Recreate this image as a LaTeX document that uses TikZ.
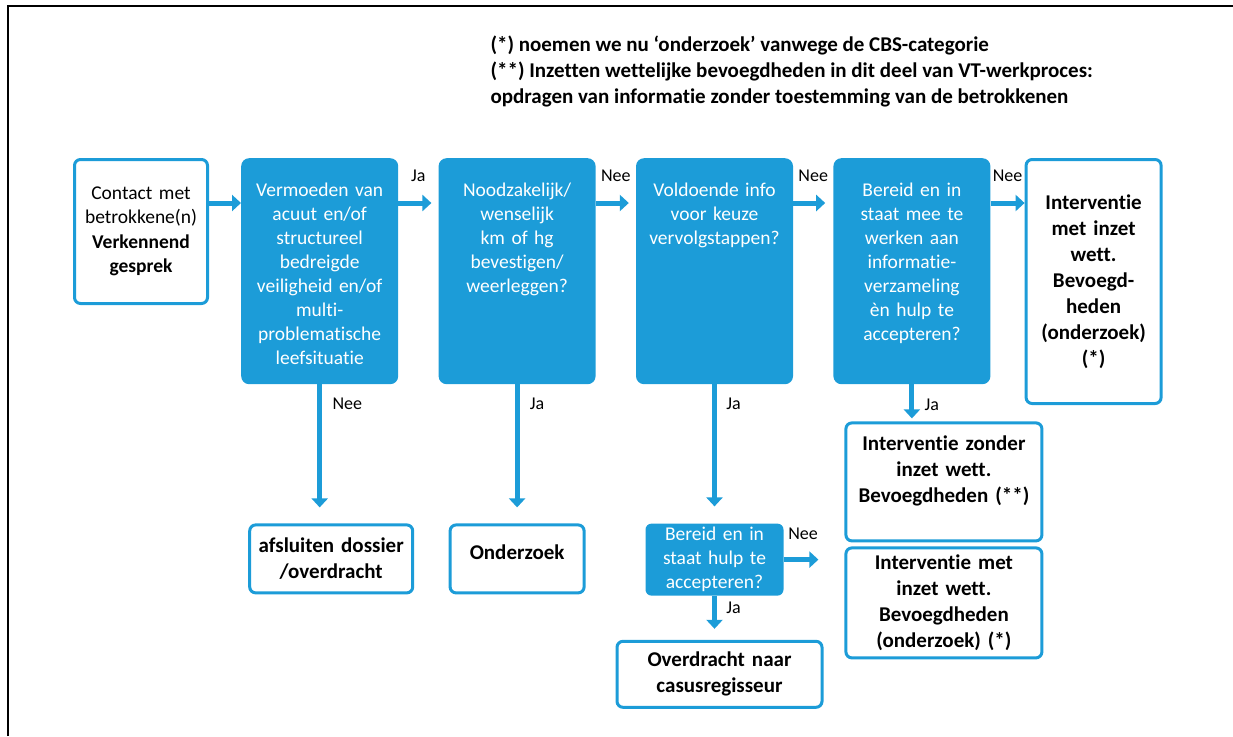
\documentclass[tikz,border=0pt]{standalone}
\usepackage{fontspec}
\setmainfont{Carlito}[Ligatures={TeX,NoCommon}]
\usetikzlibrary{arrows.meta,positioning}
\definecolor{vtblue}{RGB}{28,156,216}

\begin{document}
\begin{tikzpicture}
	[ x=1pt, y=-1pt,
		decision/.style={rectangle,fill=vtblue,text=white,rounded corners=8pt,inner xsep=3.5pt,inner ysep=0pt,
			align=center,font=\fontsize{19.5}{24}\selectfont},
		question/.style={decision,text width=150pt,text height=38pt,text depth=188pt},
		outcome/.style 2 args={rectangle,draw=vtblue,line width=3pt,fill=white,rounded corners=6pt,
			minimum width=#1,minimum height=#2,text width=#1-8pt,inner sep=2pt,align=center,
			font=\bfseries\fontsize{21}{26}\selectfont},
		flowArrow/.style={-{Triangle[width=16pt,length=9pt]},line width=5pt,draw=vtblue},
		answer/.style={font=\fontsize{18}{20}\selectfont,text=black}]

	\useasboundingbox (0,0) rectangle (1233,736);
	\draw[line width=2pt] (8,736) -- (8,6) -- (1233,6);

	\node[anchor=west,align=left,font=\bfseries\fontsize{21}{26}\selectfont] (legend) at (487,71)
		{(*) noemen we nu ‘onderzoek’ vanwege de CBS-categorie\\
		 (**) Inzetten wettelijke bevoegdheden in dit deel van VT-werkproces:\\
		 opdragen van informatie zonder toestemming van de betrokkenen};

	% top row
	\node[outcome={133pt}{144pt},anchor=north west,font=\fontsize{19.5}{24.5}\selectfont] (contact) at (73,158)
		{Contact met\\betrokkene(n)\\\textbf{Verkennend}\\\textbf{gesprek}};
	\node[question] (vermoeden) [right=32pt of contact.north east,anchor=north west]
		{Vermoeden van\\acuut en/of\\structureel\\bedreigde\\veiligheid en/of\\multi-\\problematische\\leefsituatie};
	\node[question] (noodzakelijk) [right=40pt of vermoeden]
		{Noodzakelijk/\\wenselijk\\km of hg\\bevestigen/\\weerleggen?};
	\node[question] (voldoende) [right=40pt of noodzakelijk]
		{Voldoende info\\voor keuze\\vervolgstappen?};
	\node[question] (bereid) [right=40pt of voldoende]
		{Bereid en in\\staat mee te\\werken aan\\informatie-\\verzameling\\èn hulp te\\accepteren?};
	\node[outcome={135pt}{244pt}] (metinzet) [right=34pt of bereid.north east,anchor=north west]
		{Interventie\\met inzet\\wett.\\Bevoegd-\\heden\\(onderzoek)\\(*)};

	% bottom row
	\node[outcome={163pt}{68pt}] (afsluiten) [below=139pt of vermoeden,xshift=11.5pt]
		{afsluiten dossier\\/overdracht};
	\node[outcome={134pt}{68pt},text height=33pt,text depth=31pt] (onderzoek) [below=139pt of noodzakelijk]
		{Onderzoek};
	\node[decision,text width=131pt,minimum height=72pt,rounded corners=6pt] (bereidhulp) [below=139pt of voldoende]
		{Bereid en in\\staat hulp te\\accepteren?};
	\node[outcome={205pt}{66pt}] (overdracht) [below=44pt of bereidhulp,xshift=5pt]
		{Overdracht naar\\casusregisseur};
	\node[outcome={196pt}{118pt},text height=26pt,text depth=88pt] (zonderinzet) [below=37pt of bereid,xshift=32pt]
		{Interventie zonder\\inzet wett.\\Bevoegdheden (**)};
	\node[outcome={196pt}{110pt}] (metinzetb) [below=4pt of zonderinzet]
		{Interventie met\\inzet wett.\\Bevoegdheden\\(onderzoek) (*)};

	% connectors
	\draw[flowArrow] ([yshift=-45pt]contact.north east) -- ([yshift=-45pt]vermoeden.north west);
	\draw[flowArrow,shorten >=7pt] ([yshift=-45pt]vermoeden.north east) -- ([yshift=-45pt]noodzakelijk.north west)
		node[answer,above=16pt,midway] {Ja};
	\draw[flowArrow,shorten >=7pt] ([yshift=-45pt]noodzakelijk.north east) -- ([yshift=-45pt]voldoende.north west)
		node[answer,above=16pt,midway] {Nee};
	\draw[flowArrow,shorten >=8pt] ([yshift=-45pt]voldoende.north east) -- ([yshift=-45pt]bereid.north west)
		node[answer,above=16pt,midway] {Nee};
	\draw[flowArrow] ([yshift=-45pt]bereid.north east) -- ([yshift=-45pt]bereid.north east -| metinzet.west)
		node[answer,above=16pt,midway] {Nee};

	\draw[flowArrow,shorten >=16pt] (vermoeden.south) -- (vermoeden.south |- afsluiten.north)
		node[answer,right=7pt,pos=0.14] {Nee};
	\draw[flowArrow,shorten >=16pt] (noodzakelijk.south) -- (onderzoek.north)
		node[answer,right=7pt,pos=0.14] {Ja};
	\draw[flowArrow,shorten >=17pt] (voldoende.south) -- (voldoende.south |- bereidhulp.north)
		node[answer,right=6pt,pos=0.14] {Ja};
	\draw[flowArrow,shorten >=3pt] (bereid.south) -- (bereid.south |- zonderinzet.north)
		node[answer,right=7pt,pos=0.54] {Ja};
	\draw[flowArrow,shorten >=11pt] (bereidhulp.south) -- (bereidhulp.south |- overdracht.north)
		node[answer,right=6pt,pos=0.27] {Ja};
	\draw[flowArrow,shorten >=26pt] (bereidhulp.east) -- (bereidhulp.east -| metinzetb.west)
		node[answer,above=14pt,pos=0.32] {Nee};
\end{tikzpicture}
\end{document}
